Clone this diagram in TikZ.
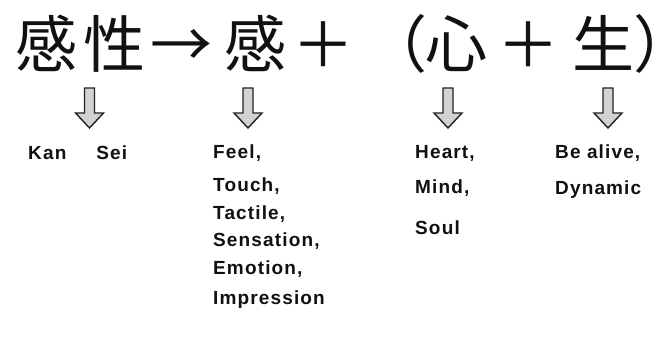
\documentclass[tikz,border=0pt]{standalone}
\usepackage{fontspec}
\usepackage{tikz}
\usetikzlibrary{positioning}
\newfontfamily\cjk{Noto Sans CJK JP}
\newfontfamily\labelfont{Liberation Sans}[LetterSpace=6]
\definecolor{ink}{HTML}{111111}
\definecolor{arrowfill}{HTML}{D2D2D2}
\definecolor{arrowline}{HTML}{222222}
\tikzset{
  kanji/.style={font=\cjk\fontsize{62}{62}\selectfont, inner sep=0pt, anchor=base, text=ink},
  word/.style={font=\labelfont\bfseries\fontsize{19}{19}\selectfont, inner sep=0pt, anchor=base west, text=ink},
  downarrow/.style={fill=arrowfill, draw=arrowline, line width=1.4pt, line join=miter},
}

\begin{document}
\begin{tikzpicture}[x=1pt,y=-1pt]
  \useasboundingbox (0,0) rectangle (654,350);
  \fill[white] (0,0) rectangle (654,350);

  \foreach \i/\ch/\x in {
    1/感/46.5, 2/性/114.5, 3/→/181.5, 4/感/255, 5/＋/323,
    6/（/396, 7/心/456, 8/＋/528, 9/生/603, 10/）/664} {
    \node[kanji] (k\i) at (\x,68) {\ch};
  }

  \foreach \a/\x in {1/89.5, 2/248, 3/448, 4/608} {
    \coordinate (a\a) at (\x,88);
    \draw[downarrow] (a\a) ++(-5,0) -- ++(10,0) -- ++(0,25) -- ++(9,0)
      -- ++(-14,15) -- ++(-14,-15) -- ++(9,0) -- cycle;
  }

  \node[word] (kansei) at (28,160) {Kan\hspace{30pt}Sei};
  \foreach \i/\t/\y in {
    1/{Feel,}/159, 2/{Touch,}/192, 3/{Tactile,}/219,
    4/{Sensation,}/247, 5/{Emotion,}/275, 6/{Impression}/305} {
    \node[word] (feel\i) at (213,\y) {\t};
  }
  \foreach \i/\t/\y in {1/{Heart,}/159, 2/{Mind,}/194, 3/{Soul}/234} {
    \node[word] (heart\i) at (415,\y) {\t};
  }
  \foreach \i/\t/\y in {1/{Be alive,}/159, 2/{Dynamic}/195} {
    \node[word] (alive\i) at (555,\y) {\t};
  }
\end{tikzpicture}
\end{document}
